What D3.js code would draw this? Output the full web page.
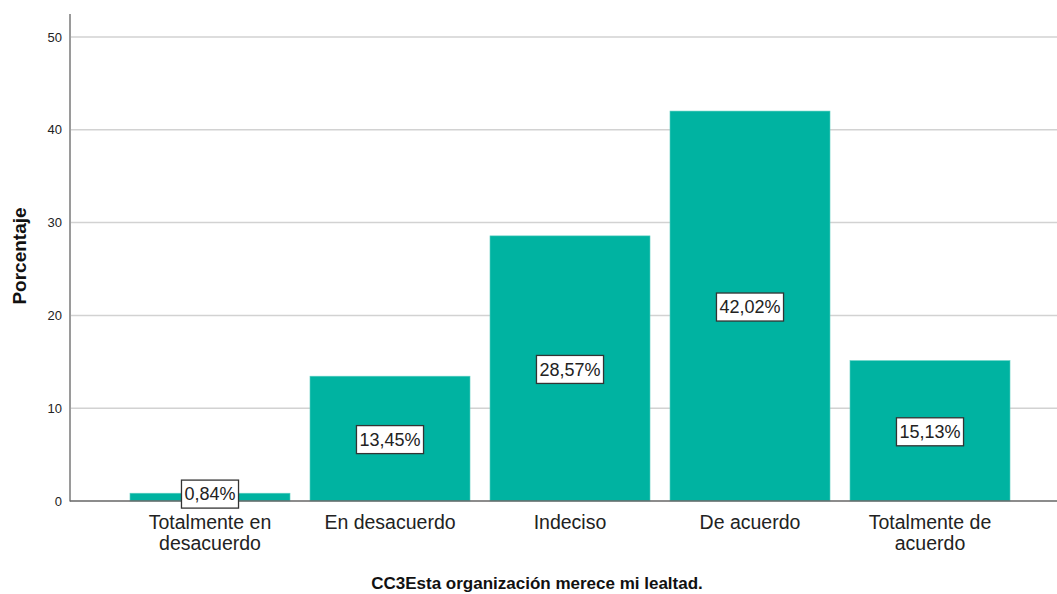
<!DOCTYPE html>
<html><head><meta charset="utf-8">
<script src="https://cdn.jsdelivr.net/npm/d3@7"></script>
<style>body{margin:0;background:#fff}svg{display:block}text{font-family:"Liberation Sans",Arial,sans-serif}</style>
</head><body><svg id="c" width="1057" height="594"></svg>
<script>
const categories = ["Totalmente en\ndesacuerdo","En desacuerdo","Indeciso","De acuerdo","Totalmente de\nacuerdo"];
const values = [0.84, 13.45, 28.57, 42.02, 15.13];
const labels = ["0,84%","13,45%","28,57%","42,02%","15,13%"];
const yTicks = [0,10,20,30,40,50];
const yTitle = "Porcentaje";
const xTitle = "CC3Esta organización merece mi lealtad.";

(function(){
const svg = d3.select("#c");
const pLeft = 70, pRight = 1057, pTop = 14, pBottom = 501;
const y = d3.scaleLinear().domain([0,50]).range([pBottom, 37]);
const x = d3.scaleBand().domain(categories).range([120,1020]).paddingInner(0.111).paddingOuter(0.0555);

// gridlines
svg.append("g").selectAll("line").data(yTicks.filter(d=>d>0)).join("line")
  .attr("x1",pLeft).attr("x2",pRight).attr("y1",d=>y(d)).attr("y2",d=>y(d))
  .attr("stroke","#d2d2d2").attr("stroke-width",1.5);

// bars
svg.append("g").selectAll("rect").data(values).join("rect")
  .attr("x",(d,i)=>x(categories[i])).attr("width",x.bandwidth())
  .attr("y",d=>y(d)).attr("height",d=>pBottom-y(d))
  .attr("fill","#00b3a1").attr("stroke","#5fd0c3").attr("stroke-width",0.6);

// axes
const yAxis = svg.append("g").attr("transform",`translate(${pLeft},0)`)
  .call(d3.axisLeft(y).tickValues(yTicks).tickSize(0).tickPadding(8));
yAxis.select(".domain").remove();
yAxis.selectAll("text").attr("font-size",13).attr("fill","#222").attr("font-family","Liberation Sans, Arial, sans-serif");
svg.append("line").attr("x1",pLeft).attr("x2",pLeft).attr("y1",pTop).attr("y2",pBottom+0.5)
  .attr("stroke","#9a9a9a").attr("stroke-width",2);
svg.append("line").attr("x1",pLeft).attr("x2",pRight).attr("y1",pBottom).attr("y2",pBottom)
  .attr("stroke","#666").attr("stroke-width",1.5);

// category labels
const cl = svg.append("g").selectAll("text").data(categories).join("text")
  .attr("x",d=>x(d)+x.bandwidth()/2).attr("y",529)
  .attr("text-anchor","middle").attr("font-size",19.5).attr("fill","#222");
cl.each(function(d){
  const parts = d.split("\n");
  d3.select(this).selectAll("tspan").data(parts).join("tspan")
    .attr("x",x(d)+x.bandwidth()/2).attr("dy",(p,i)=>i?21:0).text(p=>p);
});

// value labels
const vl = svg.append("g").selectAll("g").data(values).join("g")
  .attr("transform",(d,i)=>`translate(${x(categories[i])+x.bandwidth()/2},${y(d/2)+(i===0?-3:1)})`);
vl.append("text").attr("text-anchor","middle").attr("dy","0.35em")
  .attr("font-size",18).attr("fill","#222").text((d,i)=>labels[i]);
vl.each(function(){
  const g = d3.select(this), t = g.select("text"), b = t.node().getBBox();
  g.insert("rect","text").attr("x",b.x-3).attr("y",-14).attr("width",b.width+6).attr("height",28)
    .attr("fill","#fff").attr("stroke","#333").attr("stroke-width",1.3);
});

// titles
svg.append("text").attr("transform","translate(26,256) rotate(-90)").attr("text-anchor","middle")
  .attr("font-size",19).attr("font-weight","bold").attr("fill","#111").text(yTitle);
svg.append("text").attr("x",537).attr("y",589).attr("text-anchor","middle")
  .attr("font-size",17).attr("font-weight","bold").attr("fill","#111").text(xTitle);
})();
</script></body></html>
